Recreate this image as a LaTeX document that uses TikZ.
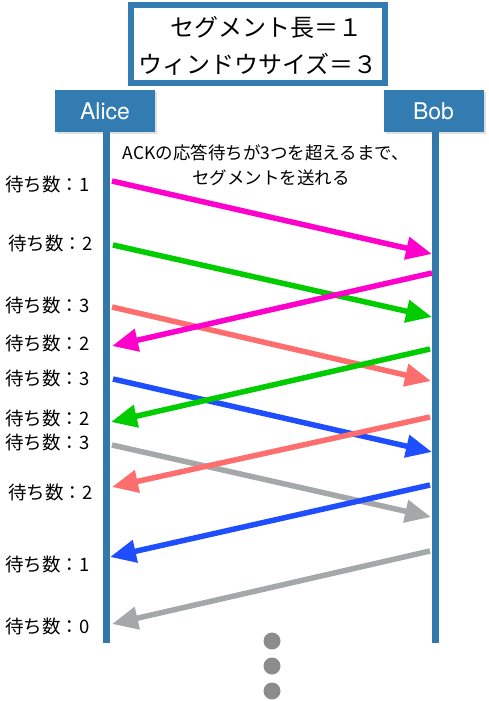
\documentclass[tikz,border=0pt]{standalone}
\usepackage{fontspec}
\setmainfont{Noto Sans CJK JP}
\newfontfamily\latinfont{TeX Gyre Heros}
\usetikzlibrary{arrows.meta,shadows}
\definecolor{lifeblue}{RGB}{50,121,170}
\definecolor{boxblue}{RGB}{51,124,178}
\definecolor{cmag}{RGB}{255,0,204}
\definecolor{cgreen}{RGB}{0,204,0}
\definecolor{csalmon}{RGB}{255,110,110}
\definecolor{cblue}{RGB}{30,78,255}
\definecolor{cgray}{RGB}{165,168,168}
\definecolor{cdot}{RGB}{140,140,140}
\tikzset{
  actor/.style={fill=boxblue, text=white, minimum width=100pt, minimum height=42pt, inner sep=0pt, font=\latinfont\fontsize{23}{26}\selectfont, drop shadow={opacity=0.25, shadow xshift=2pt, shadow yshift=-2pt}},
  lifeline/.style={draw=lifeblue, line width=7pt},
  msg/.style={line width=5.5pt, -{Triangle[length=26pt,width=22pt]}},
  waitlbl/.style={anchor=west, inner sep=0pt, font=\fontsize{18.5}{20}\selectfont},
  dotmark/.style={circle, fill=cdot, minimum size=17pt, inner sep=0pt},
}
\begin{document}
\begin{tikzpicture}[x=1pt,y=-1pt]
\useasboundingbox (0,0) rectangle (488,701);
% title
\node[draw=boxblue, line width=6pt, minimum width=254pt, minimum height=78pt, inner sep=0pt, align=center] (title) at (258,44) {};
\node[font=\fontsize{24}{28}\selectfont, inner sep=0pt] (t1) at (266,27) {セグメント長＝１};
\node[font=\fontsize{24}{28}\selectfont, inner sep=0pt] (t2) at (258,64) {ウィンドウサイズ＝３};
% actors
\node[actor] (alice) at (105,111) {Alice};
\node[actor] (bob) at (433.5,111) {Bob};
\coordinate (atop) at (106.5,132);
\coordinate (abot) at (106.5,643);
\coordinate (btop) at (435.5,132);
\coordinate (bbot) at (435.5,643);
\draw[lifeline] (atop) -- (abot);
\draw[lifeline] (btop) -- (bbot);
% note
\node[font=\fontsize{17.5}{20}\selectfont, inner sep=0pt] (n1) at (266,153) {ACKの応答待ちが3つを超えるまで、};
\node[font=\fontsize{17.5}{20}\selectfont, inner sep=0pt] (n2) at (271,178) {セグメントを送れる};
% wait labels
\node[waitlbl] (w1) at (5,184) {待ち数：1};
\node[waitlbl] (w2) at (8,243) {待ち数：2};
\node[waitlbl] (w3) at (5,305) {待ち数：3};
\node[waitlbl] (w4) at (5,343) {待ち数：2};
\node[waitlbl] (w5) at (5,378) {待ち数：3};
\node[waitlbl] (w6) at (5,418) {待ち数：2};
\node[waitlbl] (w7) at (5,442) {待ち数：3};
\node[waitlbl] (w8) at (8,492) {待ち数：2};
\node[waitlbl] (w9) at (5,564) {待ち数：1};
\node[waitlbl] (w10) at (5,626) {待ち数：0};
% coordinates
\coordinate (s1) at (112,181);  \coordinate (e1) at (432,254);
\coordinate (s2) at (113,245);  \coordinate (e2) at (432,317);
\coordinate (s3) at (112,307);  \coordinate (e3) at (431,381);
\coordinate (s4) at (113,379);  \coordinate (e4) at (432,452);
\coordinate (s5) at (112,445);  \coordinate (e5) at (431,517);
\coordinate (r1) at (432,273);  \coordinate (f1) at (112,346);
\coordinate (r2) at (430,349);  \coordinate (f2) at (111,422);
\coordinate (r3) at (430,417);  \coordinate (f3) at (112,487);
\coordinate (r4) at (430,485);  \coordinate (f4) at (110,557);
\coordinate (r5) at (430,551);  \coordinate (f5) at (112,624);
% messages
\draw[msg, cmag] (s1) -- (e1);
\draw[msg, cgreen] (s2) -- (e2);
\draw[msg, csalmon] (s3) -- (e3);
\draw[msg, cblue] (s4) -- (e4);
\draw[msg, cgray] (s5) -- (e5);
\draw[msg, cmag] (r1) -- (f1);
\draw[msg, cgreen] (r2) -- (f2);
\draw[msg, csalmon] (r3) -- (f3);
\draw[msg, cblue] (r4) -- (f4);
\draw[msg, cgray] (r5) -- (f5);
% dots
\node[dotmark] (d1) at (272,641) {};
\node[dotmark] (d2) at (272,666) {};
\node[dotmark] (d3) at (272,691) {};
\end{tikzpicture}
\end{document}
